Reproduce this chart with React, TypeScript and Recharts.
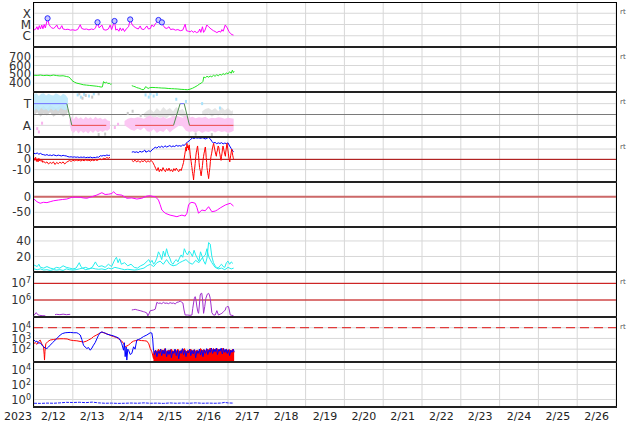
import React from 'react'
import {
  ComposedChart,
  Line,
  Area,
  Scatter,
  XAxis,
  YAxis,
  CartesianGrid,
  ReferenceLine,
} from 'recharts'

type Pair = [number, number | null]
type Band = [number, number, number]

// time axis is hours after 2/12 00:00
const dayEdges = [0, 24, 48, 72, 96, 120, 144, 168, 192, 216, 240, 264, 288, 312, 336, 360]
const dayMid = [0, 12, 36, 60, 84, 108, 132, 156, 180, 204, 228, 252, 276, 300, 324, 348]
const dayLabels = ['2023', '2/12', '2/13', '2/14', '2/15', '2/16', '2/17', '2/18', '2/19', '2/20', '2/21', '2/22', '2/23', '2/24', '2/25', '2/26']

// panel 1: x-ray flux (log10 W/m2)
const xrayClassTicks = [-6, -5, -4]
const xrayClassLabels = ['C', 'M', 'X']
const xray: Pair[] = [
  [0, -5.48], [1, -5.42], [1.8, -5.2], [2.5, -5.46], [3.3, -5.1], [4, -5.4], [4.8, -5.05], [5.5, -5.38],
  [6.3, -5.0], [7, -5.3], [8.4, -4.45], [9.3, -5.0], [10.2, -5.2], [11, -5.3], [12, -5.35], [13, -5.25],
  [14.1, -5.04], [15, -5.35], [16, -5.4], [17.2, -5.1], [18, -5.4], [19.5, -5.45], [21, -5.42], [22.5, -5.5],
  [24, -5.47], [25.5, -5.52], [27, -5.45], [28.6, -5.02], [29.5, -5.35], [31, -5.43], [32.5, -5.4], [34, -5.48],
  [35.5, -5.4], [37, -5.45], [38, -5.3], [39.3, -4.8], [40.3, -5.3], [42, -5.05], [43, -5.45], [44.5, -5.5],
  [46, -5.4], [47.1, -5.05], [48, -5.45], [49.8, -4.69], [50.6, -5.5], [51.5, -5.4], [52.5, -5.6], [53.3, -5.3],
  [54.2, -5.55], [55, -5.35], [56, -5.62], [57, -5.4], [58.5, -5.2], [59.5, -4.55], [60.5, -4.95], [61.5, -5.15],
  [63, -5.3], [64.5, -5.4], [65.7, -5.13], [66.5, -5.4], [68, -5.45], [69.8, -5.13], [70.8, -5.4], [72, -5.35],
  [72.9, -5.04], [74, -5.2], [75, -4.95], [76, -4.8], [77, -4.6], [78, -4.9], [79.1, -4.78], [80, -5.1],
  [81, -5.3], [82.2, -5.35], [83.5, -5.2], [84.5, -5.45], [86, -5.4], [87.5, -5.5], [89, -5.45], [90.5, -5.55],
  [92, -5.5], [93.5, -4.98], [94.3, -5.55], [95.5, -5.6], [96.6, -5.65], [97.5, -5.55], [98.5, -5.7], [99.5, -5.6],
  [100.5, -5.72], [101.8, -5.65], [102.5, -5.4], [103.2, -5.7], [104.2, -5.2], [104.9, -5.7], [105.8, -5.5], [106.9, -5.04],
  [108, -5.2], [109.5, -5.4], [111, -5.55], [112, -5.62], [113.1, -5.72], [114.5, -5.6], [115.5, -5.68], [116.2, -5.45],
  [117, -5.6], [118.3, -5.04], [119.5, -5.3], [120.5, -5.6], [121.5, -5.8], [122.5, -5.9], [123.4, -5.94],
]
const flares: Pair[] = [[8.4, -4.45], [39.3, -4.8], [49.8, -4.69], [59.5, -4.55], [77, -4.6], [79.1, -4.81]]

// panel 2: solar wind speed
const speedTicks = [400, 500, 600, 700]
const speed: Pair[] = [
  [0, 490], [2, 488], [4, 492], [6, 486], [8, 490], [10, 484], [12, 492], [14, 486], [16, 482], [18, 484],
  [20, 476], [21.5, 470], [22.5, 455], [23.5, 430], [25, 412], [26.5, 400], [28.5, 392], [30.5, 382], [32.5, 378],
  [34.5, 374], [36.5, 370], [38.5, 366], [40, 362], [41.5, 356], [42.3, 358], [43, 418], [44, 402], [44.8, 412],
  [45.7, 395], [46.5, 400], [47.3, 388], [48, 392], [50, null],
  [60.5, 372], [61.5, 365], [62.5, 360], [63.5, 350], [64.5, 345], [65.5, 340], [66.5, 330], [67.5, 326],
  [68.3, 335], [69, 360], [69.8, 352], [70.6, 340], [71.5, 348], [73, 352], [75, 350], [77, 348], [79, 345],
  [81, 344], [83, 340], [85, 338], [87, 336], [89, 334], [91, 330], [93, 328], [95, 326], [96.5, 332], [98, 342],
  [99.5, 356], [101, 372], [102.5, 392], [103.5, 400], [104.5, 420], [105, 470], [106, 462], [107, 478],
  [108, 468], [109, 480], [110, 472], [111, 490], [112, 478], [113, 495], [114, 484], [115, 500], [116, 492],
  [117, 508], [118, 498], [119, 515], [120, 505], [121, 530], [122, 512], [122.7, 548], [123.3, 520], [123.8, 535],
]

// panel 3: sector, T = 1, A = -1
const sectorTicks = [1, -1]
const sectorLabels = ['T', 'A']
const sectorToward: Pair[] = [[0, 1], [20.3, 1], [21, null], [90.4, 1], [92.9, 1]]
const sectorAway: Pair[] = [[23.4, -1], [44.7, -1], [46, null], [62.6, -1], [86.3, -1], [87, null], [96.2, -1], [123.4, -1]]
const sectorTurn: Pair[] = [[20.3, 1], [23.4, -1], [24, null], [86.3, -1], [90.4, 1], [91, null], [92.9, 1], [96.2, -1]]
const grayCloudA: Band[] = [
  [0, -0.1, 0.7], [2, 0.2, 0.9], [4, -0.2, 0.6], [6, 0.1, 0.8], [8, -0.1, 0.5], [10, 0.2, 0.9], [12, -0.2, 0.7],
  [14, 0.0, 0.6], [16, 0.1, 0.8], [18, -0.2, 0.9], [20, 0.0, 0.6], [21, 0.2, 0.5],
]
const blueCloud: Band[] = [
  [0, 0.35, 1.85], [1.5, 0.55, 1.95], [3, 0.3, 1.7], [4.5, 0.6, 1.9], [6, 0.4, 1.95], [7.5, 0.5, 1.75],
  [9, 0.3, 1.9], [10.5, 0.55, 1.8], [12, 0.35, 1.75], [13.5, 0.5, 1.95], [15, 0.3, 1.85], [16.5, 0.6, 1.7],
  [18, 0.45, 1.9], [19.5, 0.4, 1.8], [21, 0.6, 1.5],
]
const pinkCloudA: Band[] = [
  [22, -0.9, -0.5], [23, -1.5, -0.2], [24.5, -1.7, -0.45], [26, -1.45, -0.15], [27.5, -1.75, -0.4], [29, -1.5, -0.25],
  [30.5, -1.7, -0.45], [32, -1.55, -0.2], [33.5, -1.75, -0.4], [35, -1.5, -0.25], [36.5, -1.7, -0.45],
  [38, -1.45, -0.2], [39.5, -1.65, -0.4], [41, -1.5, -0.3], [42.5, -1.6, -0.45], [44, -1.45, -0.35],
  [45.5, -1.5, -0.55], [47, -1.3, -0.6],
]
const grayCloudB: Band[] = [
  [68, -0.2, 0.1], [70, -0.3, 0.35], [72, -0.1, 0.5], [74, -0.35, 0.2], [76, -0.15, 0.6], [78, -0.3, 0.3],
  [80, -0.2, 0.7], [82, -0.35, 0.4], [84, -0.1, 0.6], [86, -0.3, 0.3], [88, 0.1, 0.7], [90, -0.1, 0.4],
  [92, -0.2, 0.5], [94, -0.3, 0.1],
]
const grayCloudC: Band[] = [
  [104, 0.0, 0.3], [106, -0.1, 0.5], [108, 0.1, 0.6], [110, -0.2, 0.4], [112, 0.0, 0.6], [114, -0.1, 0.3],
  [116, 0.1, 0.7], [118, -0.1, 0.4], [120, 0.0, 0.6], [122, -0.1, 0.3], [123, 0.0, 0.4],
]
const pinkCloudB: Band[] = [
  [56, -1.0, -0.6], [58, -1.2, -0.4], [60, -1.4, -0.3], [62, -1.5, -0.35], [64, -1.3, -0.25], [66, -1.45, -0.3],
  [68, -1.2, -0.4], [70, -1.55, -0.2], [72, -1.6, -0.1], [74, -1.35, -0.3], [76, -1.7, -0.2], [78, -1.5, -0.35],
  [80, -1.6, -0.2], [82, -1.3, -0.4], [84, -1.65, -0.3], [86, -1.4, -0.2], [88, -1.2, -0.1], [90, -1.0, -0.2],
  [92, -1.1, -0.3], [94, -1.5, -0.1], [96, -1.6, -0.3], [98, -1.55, -0.2], [100, -1.65, -0.35], [102, -1.5, -0.25],
  [104, -1.7, -0.3], [106, -1.55, -0.2], [108, -1.6, -0.4], [110, -1.5, -0.3], [112, -1.65, -0.35], [114, -1.5, -0.25],
  [116, -1.6, -0.3], [118, -1.55, -0.4], [120, -1.7, -0.3], [122, -1.6, -0.35], [123.5, -1.5, -0.4],
]
const blueDots: Pair[] = [
  [27, 1.8], [29, 1.6], [31, 1.85], [34, 1.7], [37, 1.9], [69, 1.8], [71, 1.6], [72, 1.9], [74, 1.7], [76, 1.85],
  [88, 1.4], [94, 1.2], [104, 1.0], [115, 0.6],
]
const grayDots: Pair[] = [
  [28, 1.9], [30, 1.5], [32, 1.75], [36, 1.6], [40, 1.9], [44, -1.8], [40, -1.85], [58, 0.1], [61, 0.3], [66, -0.1],
  [100, -1.8], [110, -1.85], [120, -1.9],
]
const pinkDots: Pair[] = [[2, -1.3], [3, -1.6], [5, -0.8], [50, -1.2], [52, -0.9]]

// panel 4: IMF Bt (blue) and Bz (red), nT
const imfTicks = [10, 0, -10]
const bt: Pair[] = [
  [0, 5.8], [1, 5.5], [2, 6.2], [3, 5.0], [4, 5.8], [5, 4.8], [6, 4.5], [7, 4.0], [8, 4.6], [9, 3.8], [10, 4.2],
  [11, 3.6], [12, 4.4], [13, 3.9], [14, 3.5], [15, 4.1], [16, 3.7], [17, 3.3], [18, 3.9], [19, 3.5], [20, 3.3],
  [21, 2.6], [22, 2.3], [23, 2.5], [24, 2.1], [25, 2.4], [26, 2.0], [27, 2.3], [28, 1.8], [29, 2.2], [30, 1.9],
  [31, 2.3], [32, 1.6], [33, 2.0], [34, 1.8], [35, 2.2], [36, 1.5], [37, 1.9], [38, 1.7], [39, 2.3], [40, 2.0],
  [41, 3.5], [42, 3.2], [43, 3.8], [44, 3.4], [45, 4.2], [46, 3.8], [47, 4.0], [47.5, null],
  [60.5, 7.0], [61.5, 7.4], [62.5, 6.8], [63.5, 7.3], [64.5, 6.5], [65.5, 7.8], [66.5, 7.1], [67.5, 7.6],
  [68.5, 9.0], [69.2, 7.0], [70, 7.5], [71, 8.4], [72, 7.4], [73, 9.2], [74, 10.5], [75, 11.8], [76, 10.9],
  [77, 12.5], [78, 11.6], [79, 12.8], [80, 11.5], [81, 13.2], [82, 12.0], [83, 12.6], [84, 13.4], [85, 12.2],
  [86, 13.0], [87, 12.4], [88, 13.6], [89, 12.8], [90, 13.3], [91, 12.7], [92, 14.0], [93, 13.5], [94, 15.5],
  [95, 16.8], [96, 18.0], [97, 19.5], [98, 20.8], [99, 20.2], [100, 21.0], [101, 20.6], [102, 20.9], [103, 20.3],
  [104, 21.0], [105, 20.5], [106, 19.8], [107, 20.6], [108, 21.2], [109, 20.0], [110, 17.5], [111, 15.8],
  [112, 16.5], [113, 15.2], [114, 16.0], [115, 15.4], [116, 16.2], [117, 15.0], [118, 15.8], [119, 15.3],
  [120, 16.0], [121, 13.0], [122, 10.5], [123, 8.0], [123.5, 7.4],
]
const bz: Pair[] = [
  [0, 1.5], [0.5, -1], [1, 2], [1.5, -2], [2, 0.5], [2.5, -2.5], [3, 1], [3.5, -1.5], [4, 0], [4.5, -2], [5, -1],
  [5.5, -3], [6, -2], [7, -3.5], [8, -2.5], [9, -4.5], [10, -3], [11, -4], [12, -2.5], [13, -5], [14, -3],
  [15, -4.2], [16, -2.8], [17, -3.8], [18, -2.5], [19, -4.5], [20, -3], [21, -2], [22, -1.2], [23, -2], [24, -0.8],
  [25, -1.5], [26, -0.6], [27, -1.3], [28, -0.9], [29, -1.6], [30, -0.7], [31, -1.4], [32, -0.5], [33, -1.2],
  [34, -0.8], [35, -1.6], [36, -0.6], [37, -1.3], [38, -0.4], [39, -1.1], [40, -0.2], [41, 0.5], [42, -0.5],
  [43, 1.2], [44, 0.3], [45, 1.8], [46, 1.0], [47, 2.0], [47.5, null],
  [60.5, -1], [61.5, -2.2], [62.5, -0.8], [63.5, -2.5], [64.5, -1.2], [65.5, -3], [66.5, -1.5], [67.5, -2.2],
  [68.5, -0.8], [69.5, -2.8], [70.5, -1.4], [71.5, -2.4], [72.5, -1], [73.5, -3],
  [74.5, -6], [75.3, -9], [76, -11], [76.8, -8], [77.5, -12], [78.3, -9.5], [79, -11.5], [79.8, -8], [80.5, -10.5],
  [81.3, -12], [82, -9], [82.8, -11], [83.5, -8.5], [84.3, -11.5], [85, -10], [85.8, -12], [86.5, -9], [87.3, -11],
  [88, -8.5], [88.8, -10.5], [89.5, -12], [90.3, -9.5], [91, -11], [91.8, -7], [92.5, -3],
  [93.3, 5], [93.7, 9], [94, 12], [94.3, 8], [94.6, 15.5], [95, 11], [95.3, 13], [95.7, 9], [96, 14], [96.3, 10],
  [96.6, 5], [96.9, 1], [97.2, -2], [97.5, -6], [97.7, -8], [98, -12], [98.2, -14], [98.5, -17], [98.7, -20],
  [99, -14], [99.3, -10], [99.7, -4], [100.1, 3], [100.4, 7], [100.7, 9], [101, 12], [101.2, 13], [101.5, 8],
  [101.8, 4], [102.1, -3], [102.4, -8], [102.7, -10], [103, -12], [103.2, -15], [103.4, -16], [103.8, -11],
  [104.2, -6], [104.5, -1], [104.9, 3], [105.2, 6], [105.5, 8], [105.8, 11], [106, 12], [106.3, 7], [106.5, 2],
  [106.8, -3], [107, -8], [107.3, -11], [107.5, -14], [107.8, -16], [108, -18.7], [108.4, -13], [108.8, -8],
  [109.1, -2], [109.5, 3], [109.9, 6], [110.3, 10], [110.7, 13], [111.1, 15.5], [111.5, 12], [112, 8], [112.4, 5],
  [112.8, 3], [113.1, 7], [113.5, 9], [113.9, 13], [114.3, 12], [114.6, 8], [115, 5], [115.3, 2], [115.7, -1],
  [116, 3], [116.3, 6], [116.6, 10], [116.9, 13], [117.2, 11], [117.6, 8], [118, 5], [118.4, 3], [118.6, 7],
  [118.9, 10], [119.2, 14], [119.4, 15.5], [119.8, 11], [120.2, 6], [120.6, 1], [121.1, -2.5], [121.4, 1],
  [121.7, 4], [122, 7], [122.3, 10], [122.6, 7], [122.9, 4], [123.2, 2], [123.4, 0.5],
]

// panel 5: Dst
const dstTicks = [0, -50]
const dst: Pair[] = [
  [0, -7.4], [1.8, -16], [3.8, -21], [5.9, -18], [8, -19], [10, -16], [12.1, -13], [15.2, -10.7], [17.5, -9],
  [20.3, -7.5], [23.4, -2], [26, -1.5], [28.6, -2], [30.5, -4], [32.7, -5], [35.8, 0], [38.9, 5.3], [42, 12.8],
  [44, 7], [46.1, 8], [48.2, 10], [49.2, 16], [50.2, 11], [51.2, 7], [54.3, 5], [57.4, -5], [60.5, -4],
  [63.6, -7.5], [66.7, -5], [69.8, 2], [71.9, 3], [73.5, 1], [75, 0], [77, -10.7], [78, -25], [79.1, -42.6],
  [81.2, -53], [84.2, -59], [86, -61], [88.4, -64], [90, -61], [91.5, -59], [93.5, -62], [94.6, -53],
  [95.6, -26.6], [96.6, -20], [97.7, -18], [99.7, -21], [100.8, -35], [101.8, -53], [103.8, -42.6], [105.9, -45],
  [108, -32], [110, -48], [112.1, -46], [113.5, -42], [115.2, -36], [118.3, -26.6], [121.4, -21], [123.4, -29.8],
]

// panel 6: two cyan traces
const cyanTicks = [20, 40]
const cyanA: Pair[] = [
  [0, 9], [2, 7], [3, 10], [4, 6], [6, 5], [8, 7], [10, 5], [12, 4], [14, 6], [16, 5], [18, 8], [20, 6], [22, 5],
  [24, 4], [26, 5], [28, 12], [29, 7], [30, 5], [32, 6], [34, 4], [36, 6], [38, 13], [39, 9], [40, 7], [42, 8],
  [44, 6], [46, 10], [48, 7], [50, 16], [51, 19], [52, 12], [53, 17], [54, 10], [56, 12], [58, 8], [60, 10],
  [62, 6], [64, 5], [66, 8], [68, 10], [70, 14], [71, 16], [72, 12], [73, 15], [74, 10], [75, 13], [76, 18],
  [77, 26], [78, 22], [79, 16], [80, 27], [81, 20], [82, 30], [83, 22], [84, 18], [85, 12], [86, 10], [87, 14],
  [88, 16], [89, 13], [90, 18], [91, 22], [92, 19], [93, 30], [94, 25], [95, 22], [96, 27], [97, 24], [98, 20],
  [99, 28], [100, 22], [101, 18], [102, 14], [103, 26], [104, 20], [105, 14], [106, 10], [107, 18], [108, 38],
  [109, 36], [110, 20], [111, 12], [112, 8], [113, 6], [114, 5], [115, 8], [116, 10], [117, 7], [118, 6],
  [119, 12], [120, 14], [121, 10], [122, 13], [123, 11],
]
const cyanB: Pair[] = [
  [0, 4], [2, 3], [4, 4], [6, 2.5], [8, 3], [10, 2], [12, 3], [14, 2.5], [16, 3], [18, 2], [20, 4], [22, 3],
  [24, 2.5], [26, 3], [28, 4], [30, 5], [32, 3], [34, 4], [36, 5], [38, 4], [40, 3.5], [42, 4], [44, 3], [46, 5],
  [48, 4], [50, 6], [52, 5], [54, 4], [56, 3], [58, 3.5], [60, 3], [62, 2.5], [64, 3], [66, 4], [68, 5], [70, 8],
  [72, 10], [74, 7], [76, 12], [78, 14], [80, 10], [82, 16], [84, 10], [86, 8], [88, 9], [90, 12], [92, 14],
  [94, 16], [96, 12], [98, 10], [100, 15], [102, 12], [104, 18], [106, 22], [107, 30], [108, 20], [110, 12],
  [112, 6], [114, 4], [116, 5], [118, 3], [120, 6], [122, 4], [123.5, 5],
]

// panel 7: electron flux (log10)
const electronTicks = [6, 7]
const electron: Pair[] = [
  [0, 5.1], [0.7, 5.15], [1.2, 5.24], [1.8, 5.2], [2.6, 5.1], [3.5, 5.08], [5, 5.06], [7, 5.05], [8, null],
  [13, 5.12], [14, 5.14], [16, 5.12], [18, 5.15], [20, 5.12], [22.4, 5.14], [23, null],
  [60.5, 5.4], [61.5, 5.42], [62.6, 5.44], [64, 5.4], [65.7, 5.36], [67.7, 5.3], [68.5, 5.28], [69.8, 5.22],
  [70.4, 5.05], [70.8, 5.1], [71.9, 5.36], [73, 5.38], [73.9, 5.4], [75, 5.45], [76, 5.86], [77, 5.8], [78, 5.82],
  [79, 5.78], [80.1, 5.86], [81, 5.8], [82.2, 5.82], [83.2, 5.78], [84.2, 5.84], [85.3, 5.8], [86.3, 5.82],
  [87.3, 5.76], [88.4, 5.86], [89.4, 5.88], [90.4, 5.94], [91.2, 5.88], [92.1, 5.82], [92.8, 5.4], [93.5, 5.1],
  [95, 5.1], [96.5, 5.08], [97.7, 5.1], [98.2, 5.5], [98.7, 5.82], [99.2, 6.1], [99.7, 6.2], [100.2, 6.0],
  [100.7, 5.64], [101.3, 5.3], [101.8, 5.2], [102.3, 5.7], [102.8, 6.3], [103.3, 6.4], [103.8, 6.4], [104.3, 6.0],
  [104.9, 5.2], [105.6, 5.6], [106.3, 6.1], [107.2, 6.35], [108, 6.4], [108.5, 6.3], [109, 6.1], [109.5, 5.7],
  [110, 5.24], [111, 5.1], [112.1, 5.1], [113.1, 5.36], [114.1, 5.1], [115.2, 5.15], [116.2, 5.2], [117.3, 5.3],
  [118.3, 5.4], [118.8, 5.55], [119.3, 5.6], [120.3, 5.6], [120.8, 5.4], [121.4, 5.1], [122.4, 5.08], [123.4, 5.06],
]

// panel 8: proton flux (log10)
const protonTicks = [2, 3, 4]
const protonBlue: Pair[] = [
  [0, 2.85], [1, 2.7], [1.8, 2.75], [2.8, 2.55], [3.8, 2.6], [4.8, 2.4], [5.9, 2.22], [7, 2.1], [8, 2.06], [9, 2.2],
  [10, 2.37], [11.5, 2.6], [13.1, 2.85], [14.5, 3.05], [16.2, 3.32], [17.5, 3.45], [19.3, 3.53], [21, 3.55],
  [22.4, 3.56], [24.5, 3.53], [26.5, 3.53], [27.5, 3.45], [28.6, 3.32], [29.6, 2.9], [30.6, 2.37], [31.6, 2.2],
  [32.7, 2.06], [33.7, 2.15], [34.8, 1.9], [35.8, 2.1], [36.8, 2.37], [37.8, 2.6], [38.9, 2.97], [39.9, 3.3],
  [40.9, 3.53], [42, 3.6], [43, 3.55], [44, 3.5], [45.1, 3.4], [47.1, 3.32], [49, 3.25], [50.2, 3.17], [52.3, 3.05],
  [53.3, 2.85], [54.3, 2.5], [55.4, 1.9], [55.9, 2.6], [56.4, 1.3], [57, 2.2], [57.4, 0.98], [58, 2.0], [58.5, 1.9],
  [59.5, 1.5], [60.5, 1.6], [61.6, 2.22], [62.5, 2.0], [63.6, 2.85], [64.6, 2.9], [65.7, 2.97], [67.7, 3.17],
  [69.8, 3.32], [71.9, 3.53], [72.9, 3.5], [73.4, 3.0], [73.9, 1.9],
  [74.5, 1.5], [75.3, 1.9], [76, 1.3], [76.8, 1.8], [77.5, 1.6], [78.3, 2.0], [79, 1.4], [79.8, 1.9], [80.5, 1.55],
  [81.3, 2.05], [82, 1.3], [82.8, 1.85], [83.5, 1.5], [84.3, 1.95], [85, 1.2], [85.8, 1.8], [86.5, 1.6], [87.3, 2.0],
  [88, 1.4], [88.8, 1.9], [89.5, 1.1], [90.3, 1.85], [91, 1.6], [91.8, 2.05], [92.5, 1.5], [93.3, 1.9], [94, 1.3],
  [94.8, 1.8], [95.5, 1.65], [96.3, 2.0], [97, 1.4], [97.8, 1.9], [98.5, 1.55], [99.3, 1.95], [100, 1.2],
  [100.8, 1.85], [101.5, 1.6], [102.3, 2.0], [103, 1.45], [103.8, 1.9], [104.5, 1.3], [105.3, 1.95], [106, 1.6],
  [106.8, 2.05], [107.5, 1.5], [108.3, 1.95], [109, 1.7], [109.8, 2.1], [110.5, 1.6], [111.3, 2.0], [112, 1.75],
  [112.8, 2.1], [113.5, 1.5], [114.3, 2.0], [115, 1.8], [115.8, 2.1], [116.5, 1.55], [117.3, 2.05], [118, 1.7],
  [118.8, 2.0], [119.5, 1.6], [120.3, 1.95], [121, 1.4], [121.8, 1.9], [122.5, 1.7], [123.3, 2.0], [123.8, 1.75],
]
const protonRed: Pair[] = [
  [0, 2.54], [0.8, 2.6], [1.8, 2.45], [2.8, 2.7], [3.8, 2.85], [4.8, 2.5], [5.9, 2.22], [6.3, 1.5], [6.5, 0.98],
  [6.8, 1.8], [7.3, 2.5], [8.5, 2.7], [10, 2.85], [12, 2.9], [14.1, 2.95], [16, 2.97], [18.3, 2.97], [20.5, 2.95],
  [22.4, 2.85], [24.5, 2.8], [26.5, 2.78], [28.5, 2.72], [30.6, 2.66], [32.5, 2.75], [33.7, 2.85], [35.5, 3.0],
  [36.8, 3.17], [38.5, 3.3], [39.9, 3.43], [42, 3.6], [43.5, 3.5], [45.1, 3.43], [47, 3.3], [49.2, 3.17], [51, 3.1],
  [52.3, 2.97], [54.3, 2.75], [55.5, 2.5], [56.4, 2.22], [57.5, 2.3], [58.5, 2.37], [60, 2.6], [61.6, 2.75],
  [63, 2.8], [64.6, 2.85], [66.5, 2.8], [68.5, 2.78], [69.8, 2.75], [71, 2.5], [71.9, 2.06], [72.9, 1.75], [73.9, 1.12],
]
const protonRedFill: Pair[] = [
  [73.9, 1.12], [74, 1.6], [75, 1.9], [76, 1.7], [77, 2.0], [78, 1.75], [79, 1.95], [80, 1.8], [81, 2.05], [82, 1.7],
  [83, 1.9], [84, 1.85], [85, 2.0], [86, 1.7], [87, 1.95], [88, 1.8], [89, 2.0], [90, 1.75], [91, 1.9], [92, 1.85],
  [93, 2.05], [94, 1.7], [95, 1.9], [96, 1.8], [97, 2.0], [98, 1.7], [99, 1.95], [100, 1.8], [101, 1.9], [102, 1.75],
  [103, 2.05], [104, 1.85], [105, 1.95], [106, 1.8], [107, 2.0], [108, 1.9], [109, 2.1], [110, 1.8], [111, 2.05],
  [112, 1.9], [113, 2.1], [114, 1.85], [115, 2.0], [116, 1.9], [117, 2.1], [118, 1.8], [119, 2.0], [120, 1.85],
  [121, 1.95], [122, 1.8], [123, 2.0], [123.8, 1.7],
]

// panel 9 (log10)
const lowTicks = [0, 2, 4]
const lowBlue: Pair[] = [
  [0, -0.5], [4, -0.52], [8, -0.48], [12, -0.5], [16, -0.45], [20, -0.38], [24, -0.4], [28, -0.37], [32, -0.42],
  [36, -0.35], [40, -0.45], [44, -0.5], [48, -0.48], [52, -0.52], [56, -0.5], [60, -0.47], [64, -0.5], [68, -0.45],
  [72, -0.5], [76, -0.48], [80, -0.52], [84, -0.46], [88, -0.5], [92, -0.47], [96, -0.5], [100, -0.45], [104, -0.5],
  [108, -0.48], [112, -0.5], [116, -0.47], [118, -0.38], [120, -0.46], [123.5, -0.48],
]

const W = 634
const PH = 45
const TOP = 2
const LEFT = 34
const RIGHT = 18
const PLOT_W = W - LEFT - RIGHT
const AXIS_H = 17
const FS = 11.5
const rtPanels = [0, 1, 2, 3, 6, 7]

const pts = (a: Pair[]) => a.map(([h, v]) => ({ h, v }))
const band = (a: Band[]) => a.map(([h, lo, hi]) => ({ h, r: [lo, hi] }))

const labelTick = (labels: string[], values: number[]) => (p: any) => (
  <text x={p.x} y={p.y} dy="0.36em" textAnchor="end" fontSize={12} fill="#333">
    {labels[values.indexOf(p.payload.value)]}
  </text>
)

const PowTick = (p: any) => (
  <text x={p.x} y={p.y} dy="0.36em" textAnchor="end" fontSize={FS} fill="#333">
    <tspan>10</tspan>
    <tspan dy="-0.5em" fontSize={8}>{p.payload.value}</tspan>
  </text>
)

const DateTick = (p: any) => {
  const i = dayMid.indexOf(p.payload.value)
  const first = i === 0
  return (
    <text x={first ? p.x - 2 : p.x} y={p.y} dy="0.71em" textAnchor={first ? 'end' : 'middle'} fontSize={11} fill="#222">
      {dayLabels[i]}
    </text>
  )
}

const dotShape = (color: string) => (p: any) => (
  <rect x={p.cx - 1} y={p.cy - 1.5} width={2} height={3} fill={color} />
)
const flareShape = (p: any) => (
  <circle cx={p.cx} cy={p.cy} r={2.6} fill="#c9c9ff" stroke="#2a2aff" strokeWidth={1} />
)

const lp = {
  dot: false,
  activeDot: false,
  isAnimationActive: false,
  strokeWidth: 1,
  type: 'linear' as const,
  dataKey: 'v',
}

function Panel({ index, domain, ticks, tick, bottom, children }: any) {
  const h = bottom ? PH + AXIS_H : PH
  return (
    <div style={{ position: 'absolute', left: 0, top: TOP + index * PH, width: W, height: h }}>
      <ComposedChart width={W} height={h} margin={{ top: 0, right: RIGHT, bottom: 0, left: 0 }}>
        <CartesianGrid stroke="#d7d7d7" />
        <XAxis dataKey="h" type="number" domain={[0, 360]} ticks={dayEdges} hide height={0} allowDataOverflow />
        {bottom && (
          <XAxis
            xAxisId="lbl"
            dataKey="h"
            type="number"
            domain={[0, 360]}
            ticks={dayMid}
            interval={0}
            tick={DateTick}
            tickLine={false}
            axisLine={false}
            tickSize={2}
            tickMargin={3}
            height={AXIS_H}
            allowDataOverflow
          />
        )}
        <YAxis
          type="number"
          domain={domain}
          ticks={ticks}
          interval={0}
          width={LEFT}
          tick={tick}
          tickLine={false}
          axisLine={false}
          tickSize={2}
          tickMargin={1}
          allowDataOverflow
        />
        {children}
      </ComposedChart>
    </div>
  )
}

const numTick = { fontSize: FS, fill: '#333' }

export default function App() {
  return (
    <div
      style={{
        position: 'absolute',
        left: 0,
        top: 0,
        width: W,
        height: 424,
        background: '#fff',
        overflow: 'hidden',
        fontFamily: '"DejaVu Sans", sans-serif',
      }}
    >
      <Panel index={0} domain={[-7, -3]} ticks={xrayClassTicks} tick={labelTick(xrayClassLabels, xrayClassTicks)}>
        <Line {...lp} data={pts(xray)} stroke="#ff00ff" />
        <Scatter data={pts(flares)} dataKey="v" shape={flareShape} isAnimationActive={false} />
      </Panel>

      <Panel index={1} domain={[300, 810]} ticks={speedTicks} tick={numTick}>
        <Line {...lp} data={pts(speed)} stroke="#22e622" />
      </Panel>

      <Panel index={2} domain={[-2.07, 2.07]} ticks={sectorTicks} tick={labelTick(sectorLabels, sectorTicks)}>
        <Area data={band(grayCloudA)} dataKey="r" type="linear" stroke="none" fill="#cfcfcf" fillOpacity={0.9} isAnimationActive={false} />
        <Area data={band(blueCloud)} dataKey="r" type="linear" stroke="none" fill="#bde9fc" fillOpacity={0.9} isAnimationActive={false} />
        <Area data={band(grayCloudB)} dataKey="r" type="linear" stroke="none" fill="#d9d9d9" fillOpacity={0.7} isAnimationActive={false} />
        <Area data={band(grayCloudC)} dataKey="r" type="linear" stroke="none" fill="#d9d9d9" fillOpacity={0.7} isAnimationActive={false} />
        <Area data={band(pinkCloudA)} dataKey="r" type="linear" stroke="none" fill="#fcc4f2" fillOpacity={0.95} isAnimationActive={false} />
        <Area data={band(pinkCloudB)} dataKey="r" type="linear" stroke="none" fill="#fcc4f2" fillOpacity={0.95} isAnimationActive={false} />
        <Scatter data={pts(blueDots)} dataKey="v" shape={dotShape('#a8e2fb')} isAnimationActive={false} />
        <Scatter data={pts(grayDots)} dataKey="v" shape={dotShape('#c8c8c8')} isAnimationActive={false} />
        <Scatter data={pts(pinkDots)} dataKey="v" shape={dotShape('#f8b4ee')} isAnimationActive={false} />
        <ReferenceLine y={0} stroke="#7a7a7a" />
        <Line {...lp} data={pts(sectorTurn)} stroke="#4f8f4f" />
        <Line {...lp} data={pts(sectorToward)} stroke="#6f6fff" />
        <Line {...lp} data={pts(sectorAway)} stroke="#ea4a4a" />
      </Panel>

      <Panel index={3} domain={[-22, 21.7]} ticks={imfTicks} tick={numTick}>
        <ReferenceLine y={0} stroke="#aa0000" />
        <Line {...lp} data={pts(bt)} stroke="#0000ff" />
        <Line {...lp} data={pts(bz)} stroke="#ff0000" />
      </Panel>

      <Panel index={4} domain={[-97, 47]} ticks={dstTicks} tick={numTick}>
        <ReferenceLine y={0} stroke="#cc6868" strokeWidth={2} />
        <Line {...lp} data={pts(dst)} stroke="#ff00ff" />
      </Panel>

      <Panel index={5} domain={[0, 58]} ticks={cyanTicks} tick={numTick}>
        <Line {...lp} data={pts(cyanB)} stroke="#22eeee" />
        <Line {...lp} data={pts(cyanA)} stroke="#22eeee" />
      </Panel>

      <Panel index={6} domain={[4.98, 7.68]} ticks={electronTicks} tick={PowTick}>
        <ReferenceLine y={7} stroke="#cc0000" />
        <ReferenceLine y={6} stroke="#cc0000" />
        <Line {...lp} data={pts(electron)} stroke="#a030cc" />
      </Panel>

      <Panel index={7} domain={[0.8, 5.0]} ticks={protonTicks} tick={PowTick}>
        <ReferenceLine y={4} stroke="#e03c3c" strokeDasharray="9 5" strokeWidth={1.3} />
        <Area data={pts(protonRedFill)} dataKey="v" type="linear" baseValue={0.8} stroke="#ff0000" fill="#ff0000" fillOpacity={1} isAnimationActive={false} />
        <Line {...lp} data={pts(protonRed)} stroke="#ff0000" />
        <Line {...lp} data={pts(protonBlue)} stroke="#0000ff" />
      </Panel>

      <Panel index={8} domain={[-1, 5]} ticks={lowTicks} tick={PowTick} bottom>
        <Line {...lp} data={pts(lowBlue)} stroke="#2020ff" strokeDasharray="3 1" />
      </Panel>

      {Array.from({ length: 9 }, (_, i) => (
        <div
          key={'f' + i}
          style={{
            position: 'absolute',
            left: LEFT - 1,
            top: TOP + i * PH,
            width: PLOT_W + 2,
            height: PH,
            borderLeft: '1px solid #000',
            borderRight: '1px solid #000',
            boxSizing: 'border-box',
          }}
        />
      ))}
      {Array.from({ length: 10 }, (_, i) => (
        <div
          key={'s' + i}
          style={{
            position: 'absolute',
            left: LEFT - 1,
            top: TOP + i * PH - (i === 0 ? 0.5 : 1.25),
            width: PLOT_W + 2,
            height: i === 0 ? 1 : 2.5,
            background: i === 0 ? '#000' : '#222',
          }}
        />
      ))}
      {rtPanels.map((i) => (
        <div
          key={'rt' + i}
          style={{ position: 'absolute', left: 620, top: TOP + i * PH + 6, fontSize: 7, lineHeight: '8px', color: '#555' }}
        >
          rt
        </div>
      ))}
    </div>
  )
}
